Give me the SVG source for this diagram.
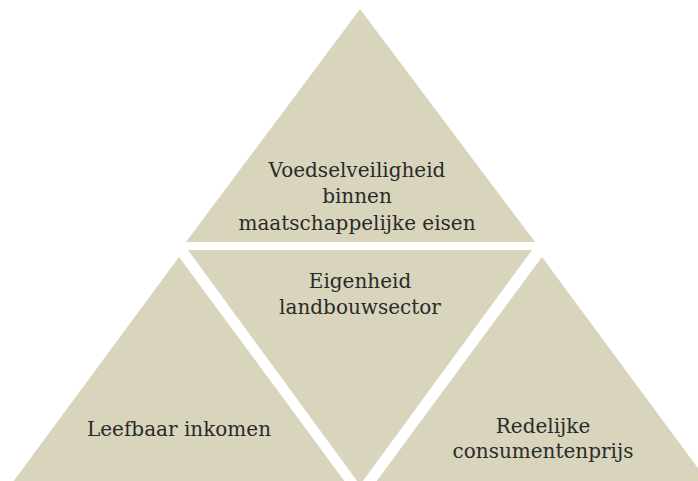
<svg xmlns="http://www.w3.org/2000/svg" width="698" height="481" viewBox="0 0 698 481">
<style>
.tri{fill:#D9D5BC;}
.lbl{font-family:"DejaVu Serif","Liberation Serif",serif;font-size:20px;fill:#2a2a2a;text-anchor:middle;}
</style>
<rect width="698" height="481" fill="#ffffff"/>
<g id="top">
<polygon class="tri" points="360,9 535,242 186,242"/>
<text class="lbl" x="357" y="177">Voedselveiligheid</text>
<text class="lbl" x="357" y="203">binnen</text>
<text class="lbl" x="357" y="230">maatschappelijke eisen</text>
</g>
<g id="middle">
<polygon class="tri" points="188,250 532,250 360,485"/>
<text class="lbl" x="360" y="288">Eigenheid</text>
<text class="lbl" x="360" y="314">landbouwsector</text>
</g>
<g id="left">
<polygon class="tri" points="179,257 351,490 7,490"/>
<text class="lbl" x="179" y="436">Leefbaar inkomen</text>
</g>
<g id="right">
<polygon class="tri" points="542,257 714,490 370,490"/>
<text class="lbl" x="543" y="433">Redelijke</text>
<text class="lbl" x="543" y="458">consumentenprijs</text>
</g>
<g id="connectors"></g>
</svg>
